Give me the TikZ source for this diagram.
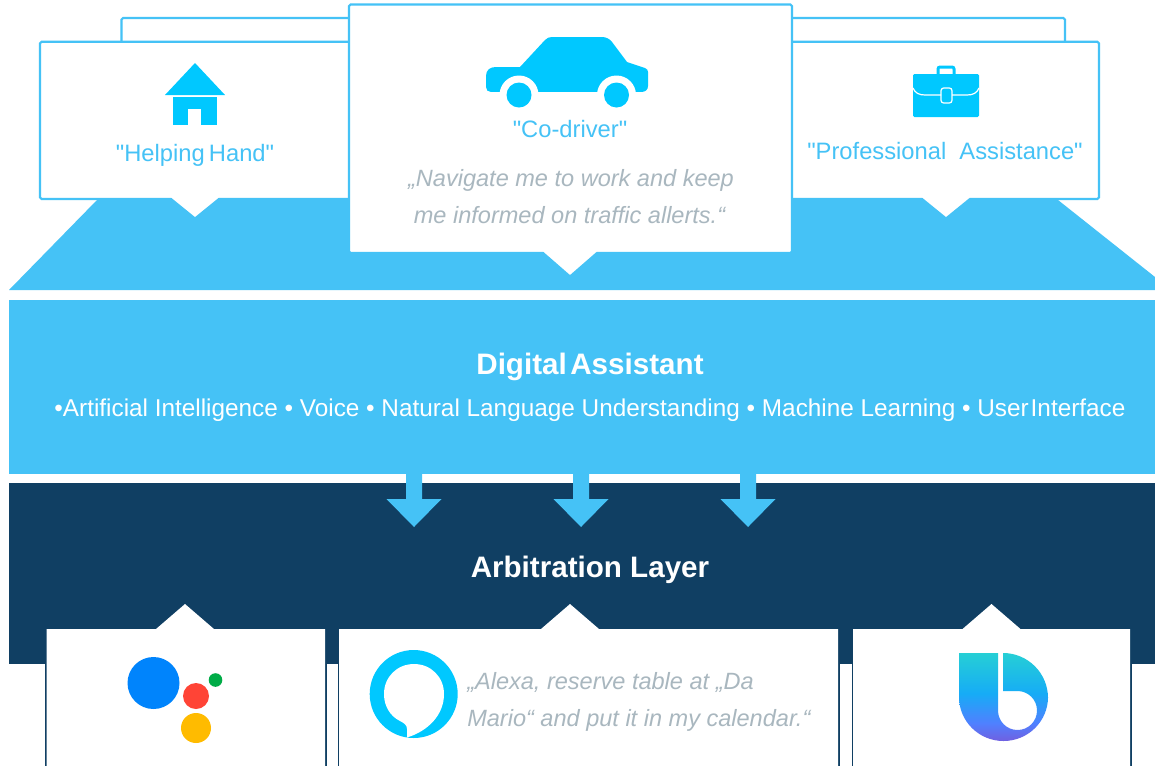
\documentclass[tikz,border=0pt]{standalone}
\usepackage{fontspec}
\setmainfont[Ligatures=TeXOff]{Liberation Sans}
\usetikzlibrary{positioning}
\definecolor{skyband}{HTML}{45C2F6}
\definecolor{iconblue}{HTML}{00C8FF}
\definecolor{darkband}{HTML}{103F63}
\definecolor{quotegray}{HTML}{A9B7BF}
\definecolor{dotblue}{HTML}{0084FC}
\definecolor{dotred}{HTML}{FF4436}
\definecolor{dotgreen}{HTML}{00AC47}
\definecolor{dotyellow}{HTML}{FFBB00}
\definecolor{bixbytop}{HTML}{26CFD5}
\definecolor{bixbymid}{HTML}{16ACF6}
\definecolor{bixbysoft}{HTML}{5080FF}
\definecolor{bixbylow}{HTML}{7060E0}
\pgfdeclareverticalshading{bixbyshade}{100bp}{color(0bp)=(bixbylow); color(25bp)=(bixbylow); color(35bp)=(bixbysoft); color(52bp)=(bixbymid); color(75bp)=(bixbytop); color(100bp)=(bixbytop)}
\tikzset{x=0.75pt,y=-0.75pt,
band/.style={fill=skyband,draw=none},
layer/.style={fill=darkband,draw=none},
frontbox/.style={fill=white,draw=skyband,line width=1.6pt},
appbox/.style={draw=darkband,line width=2.25pt},
icon/.style={fill=iconblue,draw=none},
cut/.style={fill=white,draw=none},
role/.style={anchor=base,inner sep=0pt,text=skyband,font=\fontsize{17.8}{20}\selectfont},
quotetext/.style={anchor=base,inner sep=0pt,text=quotegray,font=\fontsize{17.65}{20}\selectfont\itshape},
title/.style={anchor=base,inner sep=0pt,text=white,font=\fontsize{22.2}{24}\selectfont\bfseries},
feature/.style={anchor=base,inner sep=0pt,text=white,font=\fontsize{18.25}{20}\selectfont}}
% box with a pointer below: x1,y1,x2,y2,pointer x,half width,height
\newcommand{\bubble}[7]{
\draw [frontbox] (#1,#2) [rounded corners=1.2pt] -- (#3,#2) -- (#3,#4) [sharp corners] -- ({#5+#6},#4) -- (#5,{#4+#7}) -- ({#5-#6},#4) [rounded corners=1.2pt] -- (#1,#4) -- cycle;
}
% box with a pointer on top: x1,x2,pointer x
\newcommand{\appbubble}[3]{
\draw [appbox] (#1,775) -- (#1,629) -- (#2,629) -- (#2,775);
\fill [white] (#1,775) -- (#1,629) -- ({#3-29},629) -- (#3,604) -- ({#3+29},629) -- (#2,629) -- (#2,775) -- cycle;
}
\begin{document}
\begin{tikzpicture}
  \useasboundingbox (0,0) rectangle (1155,765);
  \fill [white] (0,0) rectangle (1155,765);

  \fill [band] (9,290) -- (97,200) -- (1058,200) -- (1155,277) -- (1155,290) -- cycle;
  \fill [band] (9,300) rectangle (1155,474);
  \fill [layer] (9,483) rectangle (1155,664);
  \foreach \ax in {414,581,748}
    \fill [band] ({\ax-8},474) -- ({\ax+8},474) -- ({\ax+8},499) -- ({\ax+27.5},499) -- (\ax,527) -- ({\ax-27.5},499) -- ({\ax-8},499) -- cycle;

  \draw [frontbox,fill=none,rounded corners=1.2pt] (121.5,42) -- (121.5,18) -- (400,18);
  \draw [frontbox,fill=none,rounded corners=1.2pt] (750,18) -- (1065,18) -- (1065,42);
  \bubble{40}{41.7}{360}{199}{195}{24}{19.5}
  \bubble{780}{41.7}{1099}{199}{946}{24}{19.5}
  \bubble{349}{4.5}{792}{253}{570}{27}{23.5}

  % house
  \fill [icon] (195,63) -- (225,95) -- (165,95) -- cycle;
  \fill [icon] (173,97) rectangle (217,125);
  \fill [cut] (188,109) rectangle (201,125);
  % car
  \fill [icon] (486,76) .. controls (486,70) and (490,67) .. (496,67) -- (520,67) -- (545,40)
    .. controls (547,38) and (549,37) .. (552,37) -- (602,37) .. controls (606,37) and (610,39) .. (612,42)
    -- (627,62) -- (645,68) .. controls (647,69) and (648,70) .. (648,72) -- (648,86)
    .. controls (648,90) and (645,92) .. (641,92) -- (491,92) .. controls (488,92) and (486,90) .. (486,87) -- cycle;
  \fill [cut] (519,95) circle (19.5);
  \fill [cut] (616.5,95) circle (19.5);
  \fill [cut] (486,92) rectangle (648,116);
  \fill [icon] (519,95) circle (12.5);
  \fill [icon] (616.5,95) circle (12.5);
  % briefcase
  \fill [icon,rounded corners=1pt] (913,74) rectangle (979,117);
  \draw [iconblue,line width=2.25pt,rounded corners=1.5pt] (938,76) -- (938,67) -- (954,67) -- (954,76);
  \draw [white,line width=0.9pt] (913,88) .. controls (915,93) and (919,95) .. (925,95) -- (941,95);
  \draw [white,line width=0.9pt] (952,95) -- (967,95) .. controls (973,95) and (977,93) .. (979,88);
  \draw [white,line width=0.9pt,rounded corners=2pt] (941,88) rectangle (952,103);

  \node (helpingLabel) [role] at (195,161) {"Helping\hspace{.18em}Hand"};
  \node (codriverLabel) [role] at (570,137) {"Co-driver"};
  \node (professionalLabel) [role] at (945,159) {"Professional\ \ Assistance"};
  \node (navigateLine1) [quotetext] at (571,186) {„Navigate me to work and keep};
  \node (navigateLine2) [quotetext] at (569.5,223) {me informed on traffic allerts.“};

  \node (assistantTitle) [title] at (590,374) {Digital\hspace{.12em}Assistant};
  \node (assistantFeatures) [feature] at (590,416) {•Artificial Intelligence • Voice • Natural Language Understanding • Machine Learning • User\hspace{.08em}Interface};
  \node (arbitrationTitle) [title] at (590,577) {Arbitration Layer};

  \appbubble{46.5}{325}{185}
  \appbubble{339}{838}{570}
  \appbubble{853}{1130}{991.5}

  % google dots
  \fill [dotblue] (153.5,683) circle (26);
  \fill [dotred] (196,696) circle (13);
  \fill [dotgreen] (215.5,680) circle (6.8);
  \fill [dotyellow] (196,728) circle (15);
  % alexa ring
  \fill [icon] (413.7,694) circle (44);
  \fill [cut] (407,737.5) -- (407,729) .. controls (407,725) and (404,723) .. (400,721)
    .. controls (390,716) and (384,706) .. (384,694) .. controls (384,677) and (397,664) .. (414,664)
    .. controls (431,664) and (444,677) .. (444,694) .. controls (444,715) and (428,731) .. (407,737.5) -- cycle;
  % bixby mark
  \shade [shading=bixbyshade]
    (959,653) -- (998,653) -- (998,710.5) arc [start angle=180,end angle=90,radius=19.5] arc [start angle=90,end angle=0,radius=19.5]
    arc [start angle=0,end angle=-90,radius=19.5] -- (1003,691) -- (1003,653)
    arc [start angle=-90,end angle=0,radius=45] -- (1048,697)
    arc [start angle=0,end angle=180,x radius=44.5,y radius=44] -- cycle;

  \node (alexaLine1) [quotetext,anchor=base west] at (467,689) {„Alexa, reserve table at „Da};
  \node (alexaLine2) [quotetext,anchor=base west] at (467,726) {Mario“ and put it in my calendar.“};
\end{tikzpicture}
\end{document}
